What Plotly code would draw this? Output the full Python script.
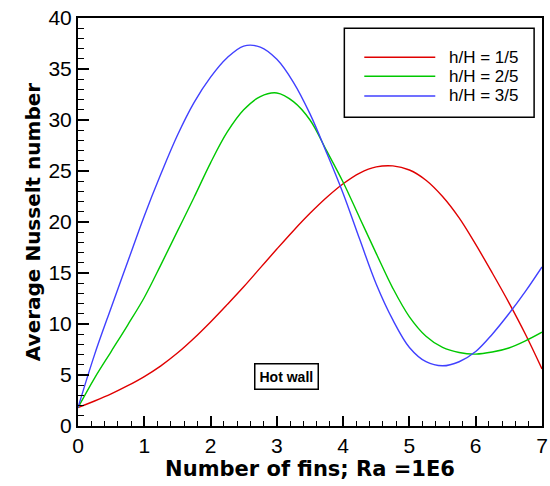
import plotly.graph_objects as go

series_names = ["h/H = 1/5", "h/H = 2/5", "h/H = 3/5"]
series_colors = ["#e00000", "#00c800", "#4040ff"]

x_pts = [0, 0.25, 0.5, 0.75, 1, 1.25, 1.5, 1.75, 2, 2.25, 2.5, 2.75, 3, 3.25, 3.5, 3.75,
         4, 4.25, 4.5, 4.75, 5, 5.25, 5.5, 5.75, 6, 6.25, 6.5, 6.75, 7]

y_red = [1.8, 2.45, 3.15, 3.95, 4.85, 5.9, 7.15, 8.6, 10.2, 11.9, 13.65, 15.5, 17.35, 19.15, 20.85, 22.4,
         23.75, 24.8, 25.4, 25.5, 25.1, 24.1, 22.5, 20.4, 17.8, 15.0, 12.1, 9.0, 5.6]

y_green = [1.8, 4.7, 7.3, 9.9, 12.6, 15.8, 19.1, 22.4, 25.8, 28.8, 31.0, 32.3, 32.65, 31.8, 30.0, 27.0,
           23.9, 20.4, 16.9, 13.5, 10.7, 8.8, 7.7, 7.2, 7.05, 7.25, 7.65, 8.35, 9.2]

y_blue = [1.8, 7.0, 11.6, 16.1, 20.6, 24.7, 28.5, 31.7, 34.2, 36.1, 37.25, 37.15, 35.95, 33.7, 30.6, 26.8,
          22.8, 18.3, 13.9, 10.4, 7.7, 6.3, 5.9, 6.3, 7.3, 9.0, 11.0, 13.2, 15.6]

ys = [y_red, y_green, y_blue]

x_title = "Number of fins; Ra =1E6"
y_title = "Average Nusselt number"
note_text = "Hot wall"

fig = go.Figure()
for name, color, yv in zip(series_names, series_colors, ys):
    fig.add_trace(go.Scatter(x=x_pts, y=yv, mode="lines", name=name,
                             line=dict(color=color, width=1.4, shape="spline", smoothing=1.0),
                             showlegend=False))

font_family = "Liberation Sans, Arial, sans-serif"
title_family = "DejaVu Sans, Liberation Sans, sans-serif"

fig.update_layout(
    width=550, height=486,
    margin=dict(l=78, r=8, t=18, b=60),
    paper_bgcolor="white", plot_bgcolor="white",
    font=dict(family=font_family, color="black"),
    xaxis=dict(range=[0, 7], dtick=1, tick0=0, showgrid=False, zeroline=False, automargin=False,
               showline=True, linecolor="black", linewidth=2, mirror=True,
               ticks="inside", ticklen=10, tickwidth=1.5, tickcolor="black",
               minor=dict(dtick=0.2, ticks="inside", ticklen=5, tickwidth=1, tickcolor="black"),
               tickfont=dict(size=21, family=font_family),
               title=dict(text="<b>" + x_title + "</b>", font=dict(size=21, family=title_family), standoff=4)),
    yaxis=dict(range=[0, 40], dtick=5, tick0=0, showgrid=False, zeroline=False, automargin=False,
               showline=True, linecolor="black", linewidth=2, mirror=True,
               ticks="inside", ticklen=11, tickwidth=1.5, tickcolor="black",
               minor=dict(dtick=1, ticks="inside", ticklen=6, tickwidth=1, tickcolor="black"),
               tickfont=dict(size=21, family=font_family),
               title=dict(text="<b>" + y_title + "</b>", font=dict(size=20, family=title_family), standoff=2)),
)

# legend box drawn manually
fig.add_shape(type="rect", xref="paper", yref="paper", x0=0.574, x1=0.983, y0=0.757, y1=0.975,
              line=dict(color="black", width=1.5), fillcolor="white", layer="above")
row_y = [0.904, 0.857, 0.809]
for name, color, ry in zip(series_names, series_colors, row_y):
    fig.add_shape(type="line", xref="paper", yref="paper", x0=0.617, x1=0.770, y0=ry, y1=ry,
                  line=dict(color=color, width=1.5))
    fig.add_annotation(xref="paper", yref="paper", x=0.796, y=ry, text=name, showarrow=False,
                       xanchor="left", yanchor="middle", font=dict(size=17, family=font_family))

fig.add_annotation(xref="paper", yref="paper", x=0.45, y=0.122, text="<b>" + note_text + "</b>",
                   showarrow=False, xanchor="center", yanchor="middle",
                   font=dict(size=14, family=font_family),
                   bordercolor="black", borderwidth=1.5, borderpad=4, bgcolor="white")

fig.write_html("out.html")
